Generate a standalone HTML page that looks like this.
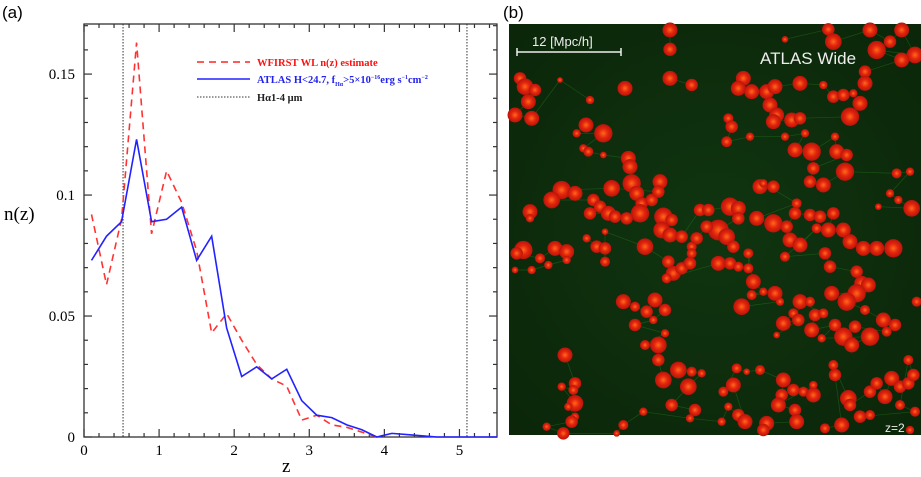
<!DOCTYPE html>
<html><head><meta charset="utf-8"><style>
body{margin:0;background:#fff;width:921px;height:477px;overflow:hidden;font-family:"Liberation Serif",serif}
svg{position:absolute;left:0;top:0}
</style></head><body>
<svg id="chart" width="921" height="477">
<text x="2" y="18" font-family="Liberation Sans,sans-serif" font-size="17">(a)</text>
<text x="503" y="18" font-family="Liberation Sans,sans-serif" font-size="17">(b)</text>
<g id="axes"></g>
<g id="series"></g>
<g id="legend">
 <line x1="197" y1="62" x2="250" y2="62" stroke="#f22" stroke-width="1.6" stroke-dasharray="7,5"/>
 <text x="257" y="66" fill="#f11" font-size="10.5" font-weight="bold">WFIRST WL n(z) estimate</text>
 <line x1="197" y1="79" x2="250" y2="79" stroke="#22f" stroke-width="1.6"/>
 <text x="257" y="83" fill="#22e" font-size="10.5" font-weight="bold">ATLAS H&lt;24.7, f<tspan font-size="6" dy="3">Hα</tspan><tspan dy="-3">&gt;5×10</tspan><tspan font-size="6" dy="-4">−16</tspan><tspan dy="4">erg s</tspan><tspan font-size="6" dy="-4">−1</tspan><tspan dy="4">cm</tspan><tspan font-size="6" dy="-4">−2</tspan></text>
 <line x1="197" y1="97" x2="250" y2="97" stroke="#333" stroke-width="1" stroke-dasharray="1.5,1.5"/>
 <text x="257" y="101" fill="#222" font-size="10.5" font-weight="bold">Hα1-4 μm</text>
</g>
<text x="4" y="220" font-size="19">n(z)</text>
<text x="282" y="472" font-size="19">z</text>
<g id="panelb">
 <defs>
  <radialGradient id="blob"><stop offset="0" stop-color="#ff6a1a"/><stop offset="0.5" stop-color="#e3250e"/><stop offset="1" stop-color="#b8140a"/></radialGradient>
  <radialGradient id="bg" cx="0.5" cy="0.5" r="0.7"><stop offset="0" stop-color="#103510"/><stop offset="1" stop-color="#0b2609"/></radialGradient>
 </defs>
 <rect x="509" y="24" width="412" height="411" fill="url(#bg)"/>
 <g id="fil" stroke="#2c8a20" stroke-width="0.7" fill="none" opacity="0.4"></g>
 <g id="blobs"></g>
 <line x1="517" y1="52" x2="621" y2="52" stroke="#eee" stroke-width="1.5"/>
 <line x1="517" y1="48" x2="517" y2="56" stroke="#eee" stroke-width="1.5"/>
 <line x1="621" y1="48" x2="621" y2="56" stroke="#eee" stroke-width="1.5"/>
 <text x="532" y="46" fill="#eee" font-family="Liberation Sans,sans-serif" font-size="13">12 [Mpc/h]</text>
 <text x="760" y="64" fill="#eee" font-family="Liberation Sans,sans-serif" font-size="17">ATLAS Wide</text>
 <text x="885" y="432" fill="#eee" font-family="Liberation Sans,sans-serif" font-size="12">z=2</text>
</g>
</svg>
<script>
const zCenters=[0.1,0.3,0.5,0.7,0.9,1.1,1.3,1.5,1.7,1.9,2.1,2.3,2.5,2.7,2.9,3.1,3.3,3.5,3.7,3.9,4.1,4.3,4.5,4.7,4.9,5.1,5.3,5.5];
const atlasValues=[0.073,0.083,0.089,0.123,0.089,0.090,0.095,0.073,0.083,0.045,0.025,0.029,0.024,0.028,0.015,0.009,0.008,0.005,0.003,0.0,0.0015,0.001,0.0005,0,0,0,0,0];
const wfirstZ=[0.1,0.3,0.5,0.7,0.9,1.1,1.3,1.5,1.7,1.9,2.1,2.3,2.5,2.7,2.9,3.1,3.3,3.5,3.7,3.9];
const wfirstValues=[0.092,0.063,0.090,0.163,0.084,0.110,0.097,0.077,0.043,0.051,0.040,0.030,0.024,0.021,0.007,0.009,0.005,0.004,0.002,0.0];
const halphaLimits=[0.52,5.1];
const xTicks=[0,1,2,3,4,5];
const yTicks=[0,0.05,0.1,0.15];
const yTickLabels=["0","0.05","0.1","0.15"];

const NS="http://www.w3.org/2000/svg";
const L=84,R=497,T=24,B=437,XMAX=5.5,YMAX=0.1707;
const X=v=>L+v/XMAX*(R-L);
const Y=v=>B-v/YMAX*(B-T);
function mk(tag,attrs,parent){const e=document.createElementNS(NS,tag);for(const k in attrs)e.setAttribute(k,attrs[k]);parent.appendChild(e);return e;}
const ax=document.getElementById('axes'),se=document.getElementById('series');
const frame=mk('rect',{x:L,y:T,width:R-L,height:B-T,fill:'none',stroke:'#333','stroke-width':1.3},ax);


for(let i=0;i<=27;i++){const v=i*0.2;const x=X(v);const major=i%5===0;const len=major?8:4;
 mk('line',{x1:x,y1:B,x2:x,y2:B-len,stroke:'#333','stroke-width':1.2},ax);
 mk('line',{x1:x,y1:T,x2:x,y2:T+len,stroke:'#333','stroke-width':1.2},ax);}
for(let i=0;i<=17;i++){const v=i*0.01;const y=Y(v);const major=i%5===0;const len=major?8:4;
 mk('line',{x1:L,y1:y,x2:L+len,y2:y,stroke:'#333','stroke-width':1.2},ax);
 mk('line',{x1:R,y1:y,x2:R-len,y2:y,stroke:'#333','stroke-width':1.2},ax);}
xTicks.forEach(v=>{const t=mk('text',{x:X(v),y:B+18,'text-anchor':'middle','font-size':15},ax);t.textContent=v;
 
 });
yTicks.forEach((v,i)=>{const t=mk('text',{x:L-9,y:Y(v)+5,'text-anchor':'end','font-size':15},ax);t.textContent=yTickLabels[i];
 
 });
halphaLimits.forEach(v=>{const l=mk('line',{x1:X(v),y1:T,x2:X(v),y2:B,stroke:'#333','stroke-width':1,'stroke-dasharray':'1.5,1.5'},se);
 
 });
const rp=mk('polyline',{points:wfirstZ.map((z,i)=>X(z)+','+Y(wfirstValues[i])).join(' '),fill:'none',stroke:'#f33','stroke-width':1.6,'stroke-dasharray':'7,5'},se);


const bp=mk('polyline',{points:zCenters.map((z,i)=>X(z)+','+Y(atlasValues[i])).join(' '),fill:'none',stroke:'#22f','stroke-width':1.6},se);



const B3=[510,90,18,510,148,16,855,118,8,985,88,15,1000,125,20,1110,90,18,1170,125,15,1205,90,18,1245,165,20,1130,150,22,1205,180,18,1095,215,15,1095,250,18,510,235,18,575,255,15,375,265,18,60,235,15,75,260,20,105,270,15,85,305,18,45,345,18,95,355,18,180,240,7,270,300,10,730,235,18,715,265,18,755,275,18,800,275,18,825,260,18,900,250,18,970,255,10,1000,290,15,1030,285,15,1060,280,10,1080,310,18,810,315,18,830,345,18,820,365,18,875,360,18,900,355,15,1050,350,22,685,355,12,695,380,15,680,425,13,750,410,10,855,410,10,915,400,10,885,450,18,935,455,22,1005,410,10,1010,455,18,1040,465,15,940,505,15,930,545,15,970,555,18,1035,515,22,1190,520,12,1230,515,10,1170,580,10,1195,600,10,1235,625,20,1135,620,8,258,375,18,230,400,10,310,400,22,250,445,10,265,455,12,310,465,8,385,475,18,390,500,18,395,550,22,410,580,18,425,610,15,420,640,22,455,600,15,480,545,18,475,575,15,335,565,20,185,570,22,225,580,18,155,600,20,280,600,15,300,620,15,270,640,15,325,640,18,345,650,15,380,655,15,90,635,18,90,655,10,490,650,22,515,660,15,485,690,20,510,705,18,545,710,15,600,630,15,625,630,15,690,620,22,715,625,18,715,655,15,655,690,25,680,710,20,700,740,15,620,680,15,590,715,15,575,740,12,780,560,18,820,560,15,790,550,10,890,610,12,770,655,18,820,670,22,860,680,15,885,640,15,930,645,15,960,650,15,1000,640,15,985,690,18,1030,690,18,1050,725,18,1090,745,18,1130,745,18,1180,745,22,870,720,18,900,735,18,950,685,12,855,770,12,975,760,15,990,800,15,1070,815,15,1085,850,18,1105,855,18,1070,880,22,995,880,18,1040,905,22,1095,930,12,1150,960,18,1185,975,15,1160,995,12,1065,980,15,1030,1010,22,1055,1035,18,1110,1010,22,965,1015,10,1005,975,15,935,990,18,945,945,15,970,940,12,900,905,18,930,905,12,880,940,12,850,970,18,895,960,15,830,1005,8,70,750,22,50,760,15,120,775,12,165,745,18,200,755,18,200,780,10,145,795,10,95,810,10,45,810,8,260,715,10,290,740,15,315,745,15,315,785,12,315,695,8,435,740,20,505,785,15,520,820,18,545,805,15,570,790,15,575,760,12,500,835,12,655,790,18,690,790,15,715,800,12,745,805,12,745,760,12,760,845,18,790,875,10,755,885,12,825,880,18,840,905,10,725,920,20,370,905,18,405,920,12,440,935,15,465,900,18,495,930,15,460,960,10,405,975,15,495,1000,10,435,1035,12,475,1035,20,475,1080,15,490,1140,20,535,1110,20,575,1115,12,605,1120,10,565,1160,20,515,1215,15,585,1230,15,195,1065,18,225,1150,15,220,1170,12,185,1160,10,225,1210,20,205,1220,10,225,1250,10,215,1265,15,140,1280,10,190,1300,15,350,1300,8,370,1275,12,430,1235,10,570,1255,10,665,1265,10,685,1220,10,715,1245,15,735,1265,18,700,1155,18,670,1175,12,710,1105,12,740,1115,8,780,1110,12,850,1140,18,845,1185,15,880,1170,15,910,1175,12,940,1185,18,940,1155,10,835,1215,18,885,1230,15,890,1265,18,800,1270,18,790,1290,15,975,1285,12,1025,1275,18,1005,1125,15,1000,1095,12,1045,1195,20,1050,1215,15,1110,1175,15,1130,1150,15,1155,1190,18,1175,1135,18,1200,1160,15,1225,1150,15,1240,1125,15,1225,1080,12,1200,1215,12,1245,1235,12,1080,1250,15,1110,1245,12,1250,905,12,1230,1290,10];
const bg=document.getElementById('blobs'),fg=document.getElementById('fil');
for(let i=0;i+2<B3.length;i+=3){
 const cx=500+B3[i]/3,cy=B3[i+1]/3;
 if(i>0){const px=500+B3[i-3]/3,py=B3[i-2]/3;if(Math.hypot(cx-px,cy-py)<60)mk('line',{x1:px,y1:py,x2:cx,y2:cy},fg);}
 mk('circle',{cx:cx,cy:cy,r:B3[i+2]/2.4,fill:'url(#blob)'},bg);
}
</script>
</body></html>
